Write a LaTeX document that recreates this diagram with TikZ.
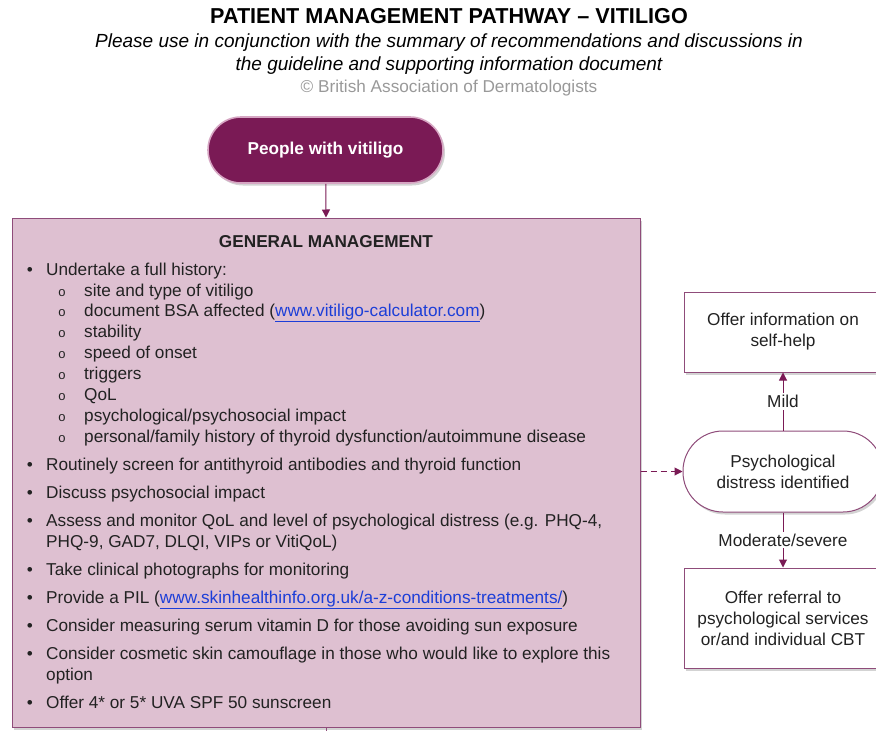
\documentclass[tikz,border=0pt]{standalone}
\usepackage{fontspec}
\setmainfont{Liberation Sans}
\usetikzlibrary{positioning,arrows.meta,shadows,calc}

% colours of the pathway
\definecolor{plum}{HTML}{7A1A55}
\definecolor{plumline}{HTML}{8F4C7A}
\definecolor{plumfill}{HTML}{DEC0D1}
\definecolor{plumedge}{HTML}{D6A6C3}
\definecolor{linkblue}{HTML}{1C3ED8}
\definecolor{txt}{HTML}{222222}

\newcommand{\weblink}[1]{\textcolor{linkblue}{\underline{#1}}}

\tikzset{
  pwfont/.style={font=\fontsize{17.2}{21}\selectfont},
  shade/.style={drop shadow={opacity=0.35, shadow xshift=2pt, shadow yshift=-2.5pt}},
  startbox/.style={shade, fill=plum, draw=plumedge, line width=1.6pt, rounded corners=33pt,
    minimum width=235pt, minimum height=66pt, text=white, font=\fontsize{17.2}{21}\selectfont\bfseries},
  mainbox/.style={shade, fill=plumfill, draw=plumline, line width=1pt,
    minimum width=628pt, minimum height=509pt},
  sidebox/.style={shade, fill=white, draw=plumline, line width=1pt, align=center,
    minimum width=198pt, text=txt, pwfont},
  roundbox/.style={sidebox, rounded corners=40pt, minimum width=200pt, minimum height=81pt},
  itemtext/.style={anchor=base west, inner sep=0pt, align=left, text=txt, pwfont},
  dotmark/.style={anchor=base, inner sep=0pt, text=txt, pwfont},
  ringmark/.style={anchor=base, inner sep=0pt, text=txt, font=\fontsize{13}{14}\selectfont},
  flow/.style={draw=plum, line width=1pt, -{Triangle[length=8pt,width=8pt]}},
  flowlabel/.style={fill=white, inner sep=2pt, text=txt, pwfont}
}

\begin{document}
\begin{tikzpicture}[x=1pt, y=-1pt]
  \useasboundingbox (0,0) rectangle (876,731);

  % --- Titolo ---
  \node (title) at (449,16) {\fontsize{21.6}{24}\selectfont\bfseries PATIENT MANAGEMENT PATHWAY – VITILIGO};
  \node[align=center, font=\fontsize{19}{23}\selectfont\itshape] (subtitle) at (449,54)
    {Please use in conjunction with the summary of recommendations and discussions in\\
     the guideline and supporting information document};
  \node[text=black!40, font=\fontsize{17.2}{18}\selectfont] (copy) at (449,88) {© British Association of Dermatologists};

  % --- Nodo iniziale e riquadro principale ---
  \node[startbox] (people) at (325.5,150) {People with vitiligo};
  \node[mainbox] (gm) at (326,472.5) {};
  \coordinate (out) at (326,731);

  \node[anchor=base, inner sep=0pt, text=txt, font=\fontsize{17.2}{21}\selectfont\bfseries] (gmhead) at (326,247) {GENERAL MANAGEMENT};

  % --- Voci principali (pallino pieno); il testo su due righe ha la base sull'ultima riga ---
  \foreach \y/\yb/\t [count=\i] in {
      275.5/275.5/{Undertake a full history:},
      470.5/470.5/{Routinely screen for antithyroid antibodies and thyroid function},
      498.5/498.5/{Discuss psychosocial impact},
      526.5/547.5/{Assess and monitor QoL and level of psychological distress (e.g. PHQ-4,\\PHQ-9, GAD7, DLQI, VIPs or VitiQoL)},
      575.5/575.5/{Take clinical photographs for monitoring},
      603.5/603.5/{Provide a PIL (\weblink{www.skinhealthinfo.org.uk/a-z-conditions-treatments/})},
      631.5/631.5/{Consider measuring serum vitamin D for those avoiding sun exposure},
      659.5/680.5/{Consider cosmetic skin camouflage in those who would like to explore this\\option},
      708.5/708.5/{Offer 4* or 5* UVA SPF 50 sunscreen}} {
    \node[dotmark] (dot\i) at (30,\y) {•};
    \node[itemtext] (item\i) at (46,\yb) {\t};
  }

  % --- Sotto-voci della storia clinica ---
  \foreach \y/\t [count=\i] in {
      296.5/{site and type of vitiligo},
      316.5/{document BSA affected (\weblink{www.vitiligo-calculator.com})},
      337.5/{stability},
      358.5/{speed of onset},
      379.5/{triggers},
      400.5/{QoL},
      421.5/{psychological/psychosocial impact},
      442.5/{personal/family history of thyroid dysfunction/autoimmune disease}} {
    \node[ringmark] (ring\i) at (62,\y) {o};
    \node[itemtext] (sub\i) at (84,\y) {\t};
  }

  % --- Percorso del distress psicologico ---
  \node[sidebox, minimum height=80pt] (selfhelp) at (783,332) {Offer information on\\self-help};
  \node[roundbox] (distress) at (783,471.5) {Psychological\\distress identified};
  \node[sidebox, minimum height=100pt] (referral) at (783,618) {Offer referral to\\psychological services\\or/and individual CBT};

  % --- Frecce ---
  \draw[flow] (people) -- (gm.north);
  \draw[draw=plumline, line width=1pt] (gm.south) -- (out);
  \draw[flow, dash pattern=on 6pt off 4pt] (gm.east |- distress.west) -- (distress.west);
  \draw[flow] (distress.north) -- node[flowlabel] {Mild} (selfhelp.south);
  \draw[flow] (distress.south) -- node[flowlabel] {Moderate/severe} (referral.north);

\end{tikzpicture}
\end{document}
